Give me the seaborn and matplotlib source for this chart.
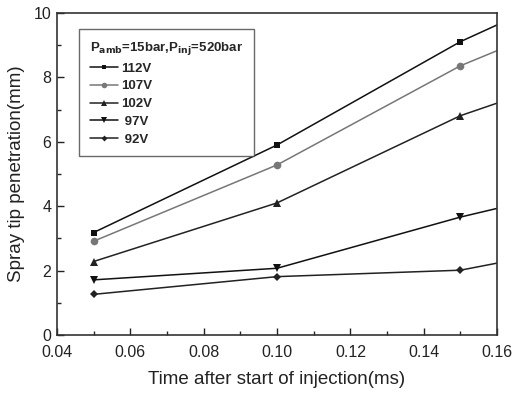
import matplotlib
matplotlib.use("Agg")
import matplotlib.pyplot as plt
import seaborn as sns
import pandas as pd
from matplotlib.ticker import MultipleLocator
from matplotlib.lines import Line2D

time_ms = [0.05, 0.10, 0.15, 0.16]
series_labels = ["112V", "107V", "102V", "97V", "92V"]
v112 = [3.18, 5.90, 9.11, 9.63]
v107 = [2.91, 5.28, 8.36, 8.83]
v102 = [2.28, 4.10, 6.81, 7.20]
v97 = [1.71, 2.07, 3.66, 3.93]
v92 = [1.26, 1.81, 2.01, 2.23]
values = [v112, v107, v102, v97, v92]
markers = ["s", "o", "^", "v", "D"]
colors = ["#111111", "#777777", "#222222", "#111111", "#222222"]
msizes = [4.5, 5.5, 5.5, 5.5, 4.5]

sns.set_style("ticks")
plt.rcParams['font.family'] = ['Liberation Sans', 'DejaVu Sans']

fig = plt.figure(figsize=(5.13, 3.94), dpi=100)
ax = fig.add_axes([0.111, 0.150, 0.858, 0.817])

handles = []
for lab, vals, m, c, ms in zip(series_labels, values, markers, colors, msizes):
    df = pd.DataFrame({"t": time_ms, "v": vals})
    sns.lineplot(data=df, x="t", y="v", ax=ax, color=c, marker=m, markersize=ms,
                 markeredgewidth=0, linewidth=1.1, markevery=[0, 1, 2], legend=False)
    handles.append(Line2D([0], [0], color=c, marker=m, markersize=ms - 1.5,
                          markeredgewidth=0, linewidth=1.1))

ax.set_xlim(0.04, 0.16)
ax.set_ylim(0, 10)
ax.xaxis.set_major_locator(MultipleLocator(0.02))
ax.xaxis.set_minor_locator(MultipleLocator(0.01))
ax.yaxis.set_major_locator(MultipleLocator(2))
ax.yaxis.set_minor_locator(MultipleLocator(1))
ax.set_xticklabels([f"{x:.2f}" for x in ax.get_xticks()])
ax.tick_params(which="major", direction="in", length=5, width=1, labelsize=11.5, colors="#222222")
ax.tick_params(which="minor", direction="in", length=3, width=1)
ax.tick_params(axis="x", which="major", pad=7)
ax.tick_params(axis="y", which="major", pad=4)
for s in ax.spines.values():
    s.set_linewidth(1.2)
    s.set_color("#333333")

ax.set_xlabel("Time after start of injection(ms)", fontsize=13.5, color="#222222", labelpad=8)
ax.set_ylabel("Spray tip penetration(mm)", fontsize=13.5, color="#222222", labelpad=6)

leg = ax.legend(handles, [" " + l if len(l) == 3 else l for l in series_labels],
                title=r"P$_{\mathbf{amb}}$=15bar,P$_{\mathbf{inj}}$=520bar",
                loc="upper left", bbox_to_anchor=(0.036, 0.97), frameon=True,
                fancybox=False, edgecolor="#444444", prop={"weight": "bold", "size": 9.5},
                handlelength=2.1, handletextpad=0.25, labelspacing=0.42,
                borderpad=0.8)
leg.get_title().set_fontweight("bold")
leg.get_title().set_fontsize(9.5)
leg._legend_box.align = "left"
leg.get_frame().set_linewidth(1.0)

fig.savefig("out.png", dpi=100)
